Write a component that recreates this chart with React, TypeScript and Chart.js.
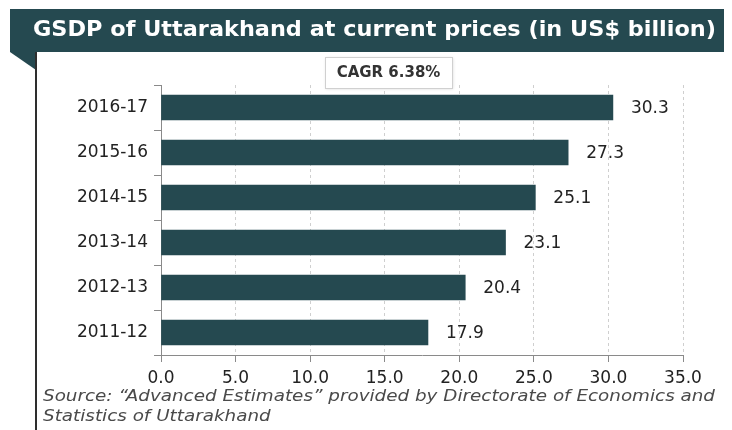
import React, { useEffect, useRef } from "react";
import { Chart, registerables } from "chart.js";

Chart.register(...registerables);

const TITLE = "GSDP of Uttarakhand at current prices (in US$ billion)";
const CAGR_LABEL = "CAGR 6.38%";
const SOURCE_LINES = [
  "Source: \u201CAdvanced Estimates\u201D provided by Directorate of Economics and",
  "Statistics of Uttarakhand",
];
const years = ["2011-12", "2012-13", "2013-14", "2014-15", "2015-16", "2016-17"];
const gsdp = [17.9, 20.4, 23.1, 25.1, 27.3, 30.3];
const xMin = 0;
const xMax = 35;
const xStep = 5;

const DARK = "#254950";

function stretchedText(ctx: any, text: string, x: number, y: number, sx: number) {
  ctx.save();
  ctx.translate(x, y);
  ctx.scale(sx, 1);
  ctx.fillText(text, 0, 0);
  ctx.restore();
}

const decorPlugin = {
  id: "decor",
  beforeDraw(chart: any) {
    const ctx = chart.ctx;
    const W = chart.width;
    const H = chart.height;
    ctx.save();
    ctx.fillStyle = "#ffffff";
    ctx.fillRect(0, 0, W, H);
    // title bar
    ctx.fillStyle = DARK;
    ctx.fillRect(2, 1, W - 2, 43);
    // fold triangle
    ctx.beginPath();
    ctx.moveTo(2, 44);
    ctx.lineTo(28, 44);
    ctx.lineTo(28, 62);
    ctx.closePath();
    ctx.fill();
    // left border
    ctx.strokeStyle = "#2e2e2e";
    ctx.lineWidth = 2;
    ctx.beginPath();
    ctx.moveTo(28, 44);
    ctx.lineTo(28, H);
    ctx.stroke();
    // title
    ctx.fillStyle = "#ffffff";
    ctx.font = "bold 21px 'DejaVu Sans'";
    ctx.textBaseline = "middle";
    ctx.textAlign = "left";
    const tw = ctx.measureText(TITLE).width;
    stretchedText(ctx, TITLE, 25, 23, 683 / tw);
    // source
    ctx.fillStyle = "#4a4a4a";
    ctx.font = "italic 15px 'DejaVu Sans'";
    const sw = ctx.measureText(SOURCE_LINES[0]).width;
    const ssx = 672 / sw;
    stretchedText(ctx, SOURCE_LINES[0], 35, 389, ssx);
    stretchedText(ctx, SOURCE_LINES[1], 35, 409, ssx);
    ctx.restore();
  },
  afterDatasetsDraw(chart: any) {
    const ctx = chart.ctx;
    const meta = chart.getDatasetMeta(0);
    const data = chart.data.datasets[0].data;
    ctx.save();
    ctx.fillStyle = "#222222";
    ctx.font = "17px 'DejaVu Sans'";
    ctx.textBaseline = "middle";
    ctx.textAlign = "left";
    meta.data.forEach((bar: any, i: number) => {
      ctx.fillText(Number(data[i]).toFixed(1), bar.x + 18, bar.y + 1);
    });
    // CAGR box
    const bx = 317, by = 49, bw = 127, bh = 31;
    ctx.shadowColor = "rgba(0,0,0,0.15)";
    ctx.shadowBlur = 3;
    ctx.shadowOffsetX = 1;
    ctx.shadowOffsetY = 1;
    ctx.fillStyle = "#ffffff";
    ctx.fillRect(bx, by, bw, bh);
    ctx.shadowColor = "transparent";
    ctx.strokeStyle = "#d0d0d0";
    ctx.lineWidth = 1;
    ctx.strokeRect(bx + 0.5, by + 0.5, bw, bh);
    ctx.fillStyle = "#333333";
    ctx.font = "bold 15px 'DejaVu Sans'";
    ctx.textAlign = "center";
    ctx.fillText(CAGR_LABEL, bx + bw / 2, by + bh / 2 + 1);
    ctx.restore();
  },
};

export default function App() {
  const ref = useRef<HTMLCanvasElement>(null);
  useEffect(() => {
    if (!ref.current) return;
    const chart = new Chart(ref.current, {
      type: "bar",
      data: {
        labels: years,
        datasets: [
          {
            data: gsdp,
            backgroundColor: DARK,
            borderWidth: 0,
            barThickness: 25,
          },
        ],
      },
      options: {
        indexAxis: "y",
        responsive: false,
        animation: false,
        layout: { padding: { left: 0, right: 49, top: 77, bottom: 45 } },
        plugins: { legend: { display: false }, tooltip: { enabled: false }, title: { display: false } },
        scales: {
          y: {
            reverse: true,
            afterFit: (s: any) => { s.width = 153; },
            grid: { drawOnChartArea: false, drawTicks: true, tickLength: 7, color: "#8a8a8a", offset: true },
            border: { display: true, color: "#8a8a8a", width: 1 },
            ticks: { padding: 6, color: "#222222", font: { family: "'DejaVu Sans'", size: 17 } },
          },
          x: {
            min: xMin,
            max: xMax,
            afterFit: (s: any) => { s.height = 30; },
            grid: {
              drawOnChartArea: true,
              drawTicks: true,
              tickLength: 7,
              color: "#cfcfcf",
              tickColor: "#8a8a8a",
              tickBorderDash: [],
            },
            border: { display: true, color: "#8a8a8a", width: 1, dash: [3, 3] },
            ticks: {
              stepSize: xStep,
              padding: 6,
              color: "#222222",
              font: { family: "'DejaVu Sans'", size: 17 },
              callback: (v: any) => Number(v).toFixed(1),
            },
          },
        },
      },
      plugins: [decorPlugin],
    });
    return () => chart.destroy();
  }, []);
  return <canvas ref={ref} width={724} height={422} style={{ display: "block" }} />;
}
